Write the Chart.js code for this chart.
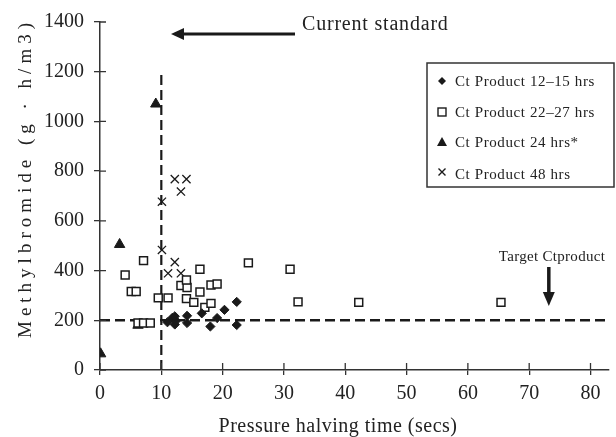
<!DOCTYPE html>
<html>
<head>
<meta charset="utf-8">
<script src="https://cdn.jsdelivr.net/npm/chart.js@4.4.1/dist/chart.umd.min.js"></script>
<style>
  html, body { margin: 0; padding: 0; background: #fff; }
  .chart-container { width: 616px; height: 437px; }
</style>
</head>
<body>
<div class="chart-container"><canvas id="chart" width="616" height="437"></canvas></div>
<script>
// series: [pressure halving time (s), Ct product (g.h/m3)]
const ct12to15 = [[11, 192], [11.8, 210], [12.2, 183], [12.4, 198], [12.2, 216], [14.2, 218], [14.2, 189],
  [16.6, 228], [18, 175], [19.1, 209], [20.3, 242], [22.3, 274], [22.3, 181]];
const ct22to27 = [[4.1, 382], [5.1, 316], [5.9, 316], [7.1, 440], [6.2, 189], [7.1, 189], [8.2, 189],
  [9.5, 290], [11.1, 290], [13.2, 340], [14.2, 332], [14.1, 362], [14.1, 287], [15.3, 272],
  [16.3, 405], [16.3, 314], [17.1, 252], [18.1, 342], [19.1, 346], [18.1, 268], [24.2, 431],
  [31, 405], [32.3, 274], [42.2, 272], [65.4, 272]];
const ct24 = [[0.1, 65], [3.2, 505], [6.2, 180], [9.1, 1070]];
const ct48 = [[12.2, 768], [14.1, 768], [13.2, 718], [10.1, 677], [10.1, 483], [12.2, 434], [11.1, 389], [13.2, 389]];

const seriesLabels = ['Ct Product 12–15 hrs', 'Ct Product 22–27 hrs', 'Ct Product 24 hrs*', 'Ct Product 48 hrs'];
const xTicks = [0, 10, 20, 30, 40, 50, 60, 70, 80];
const yTicks = [0, 200, 400, 600, 800, 1000, 1200, 1400];
const standardLine = [[10, 0], [10, 1200]];
const targetLine = [[0, 200], [83, 200]];

const INK = '#1a1a1a';
const FONT = '"Liberation Serif", "DejaVu Serif", serif';
const toPts = arr => arr.map(p => ({ x: p[0], y: p[1] }));

// legend symbols, axis titles, arrows and inner tick marks
const extras = {
  id: 'extras',
  afterDraw(chart) {
    const ctx = chart.ctx;
    const xs = chart.scales.x, ys = chart.scales.y;
    const a = chart.chartArea;
    ctx.save();
    ctx.strokeStyle = '#333';
    ctx.lineWidth = 1.3;
    ctx.beginPath();
    yTicks.forEach(v => { const py = ys.getPixelForValue(v); ctx.moveTo(a.left, py); ctx.lineTo(a.left + 6, py); });
    xTicks.forEach(v => { const px = xs.getPixelForValue(v); ctx.moveTo(px, a.bottom); ctx.lineTo(px, a.bottom - 7); });
    ctx.stroke();

    ctx.fillStyle = '#222';
    // x title
    ctx.font = '20px ' + FONT;
    ctx.textAlign = 'center';
    ctx.textBaseline = 'middle';
    ctx.letterSpacing = '0.5px';
    ctx.fillText('Pressure halving time (secs)', 338, 427);
    // y title
    ctx.save();
    ctx.translate(26, 178);
    ctx.rotate(-Math.PI / 2);
    ctx.font = '19px ' + FONT;
    ctx.letterSpacing = '5px';
    ctx.fillText('Methylbromide (g · h/m3)', 0, 0);
    ctx.restore();

    // current standard arrow
    ctx.letterSpacing = '0.8px';
    ctx.font = '20px ' + FONT;
    ctx.textAlign = 'left';
    ctx.fillText('Current standard', 302, 25);
    ctx.strokeStyle = INK;
    ctx.fillStyle = INK;
    ctx.lineWidth = 3;
    ctx.beginPath(); ctx.moveTo(295, 34); ctx.lineTo(180, 34); ctx.stroke();
    ctx.beginPath(); ctx.moveTo(171, 34); ctx.lineTo(184, 28); ctx.lineTo(184, 40); ctx.closePath(); ctx.fill();

    // target arrow
    const tx = xs.getPixelForValue(73.2);
    ctx.fillStyle = '#222';
    ctx.font = '15px ' + FONT;
    ctx.letterSpacing = '0.3px';
    ctx.textAlign = 'center';
    ctx.fillText('Target Ctproduct', 552, 257);
    ctx.fillStyle = INK;
    ctx.lineWidth = 3.5;
    ctx.beginPath(); ctx.moveTo(tx, 267); ctx.lineTo(tx, 296); ctx.stroke();
    ctx.beginPath(); ctx.moveTo(tx, 306); ctx.lineTo(tx - 6, 292); ctx.lineTo(tx + 6, 292); ctx.closePath(); ctx.fill();

    // legend box
    ctx.strokeStyle = '#333';
    ctx.lineWidth = 1.5;
    ctx.strokeRect(427, 63, 187, 124);
    const rows = [81, 112, 142, 174];
    ctx.font = '15px ' + FONT;
    ctx.letterSpacing = '0.6px';
    ctx.textAlign = 'left';
    rows.forEach((ry, i) => {
      const sx = 442;
      ctx.fillStyle = INK; ctx.strokeStyle = INK; ctx.lineWidth = 1.4;
      ctx.beginPath();
      if (i === 0) { ctx.moveTo(sx, ry - 4); ctx.lineTo(sx + 4, ry); ctx.lineTo(sx, ry + 4); ctx.lineTo(sx - 4, ry); ctx.closePath(); ctx.fill(); }
      if (i === 1) { ctx.strokeRect(sx - 4, ry - 4, 8, 8); }
      if (i === 2) { ctx.moveTo(sx, ry - 5); ctx.lineTo(sx + 5, ry + 4); ctx.lineTo(sx - 5, ry + 4); ctx.closePath(); ctx.fill(); }
      if (i === 3) { ctx.moveTo(sx - 3.5, ry - 5.5); ctx.lineTo(sx + 3.5, ry + 1.5); ctx.moveTo(sx + 3.5, ry - 5.5); ctx.lineTo(sx - 3.5, ry + 1.5); ctx.stroke(); }
      ctx.fillStyle = '#222';
      ctx.fillText(seriesLabels[i], 455, ry + 1);
    });
    ctx.restore();
  }
};

new Chart(document.getElementById('chart').getContext('2d'), {
  type: 'scatter',
  data: {
    datasets: [
      { label: seriesLabels[0], data: toPts(ct12to15), pointStyle: 'rectRot', pointRadius: 4.6,
        backgroundColor: INK, borderColor: INK, borderWidth: 1 },
      { label: seriesLabels[1], data: toPts(ct22to27), pointStyle: 'rect', pointRadius: 5.6,
        backgroundColor: '#fff', borderColor: INK, borderWidth: 1.5 },
      { label: seriesLabels[2], data: toPts(ct24), pointStyle: 'triangle', pointRadius: 6,
        backgroundColor: INK, borderColor: INK, borderWidth: 1 },
      { label: seriesLabels[3], data: toPts(ct48), pointStyle: 'crossRot', pointRadius: 5.8,
        backgroundColor: INK, borderColor: INK, borderWidth: 1.3 },
      { label: 'standard', data: toPts(standardLine), showLine: true, pointRadius: 0,
        borderColor: INK, borderWidth: 2.2, borderDash: [10, 5] },
      { label: 'target', data: toPts(targetLine), showLine: true, pointRadius: 0,
        borderColor: INK, borderWidth: 2.4, borderDash: [10, 5] }
    ]
  },
  options: {
    responsive: false,
    animation: false,
    layout: { padding: { top: 13, right: 0, left: 0, bottom: 0 } },
    scales: {
      x: {
        type: 'linear', min: 0, max: 83,
        afterFit: s => { s.height = 67; },
        afterBuildTicks: s => { s.ticks = xTicks.map(v => ({ value: v })); },
        border: { color: '#333', width: 1.5 },
        grid: { drawOnChartArea: false, tickLength: 5, color: '#333', lineWidth: 1.3 },
        ticks: { color: '#222', padding: 7, font: { family: FONT, size: 20 }, callback: v => String(v) }
      },
      y: {
        min: 0, max: 1400,
        afterFit: s => { s.width = 100; },
        afterBuildTicks: s => { s.ticks = yTicks.map(v => ({ value: v })); },
        border: { color: '#333', width: 1.5 },
        grid: { drawOnChartArea: false, tickLength: 6, color: '#333', lineWidth: 1.3 },
        ticks: { color: '#222', padding: 10, font: { family: FONT, size: 20 }, callback: v => String(v) }
      }
    },
    plugins: {
      legend: { display: false },
      tooltip: { enabled: false }
    }
  },
  plugins: [extras]
});
</script>
</body>
</html>
